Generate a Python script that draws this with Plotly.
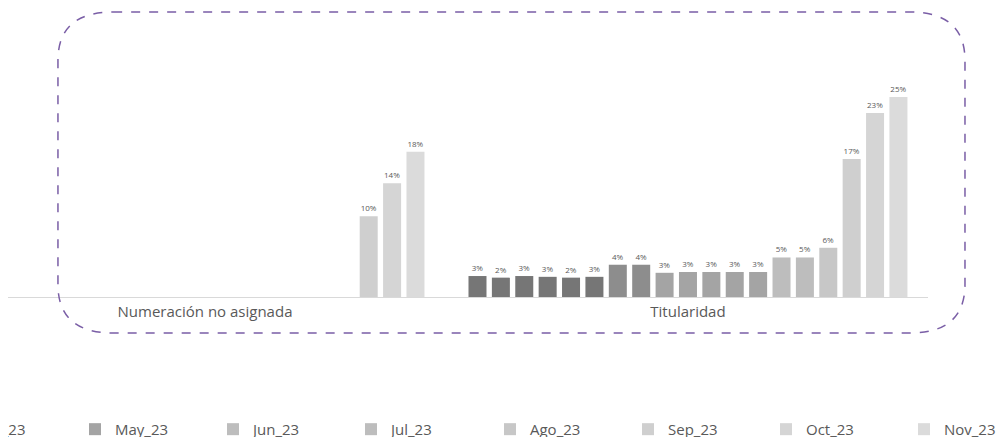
import plotly.graph_objects as go

categories = ["Numeración no asignada", "Titularidad"]

months = [
    "May_22", "Jun_22", "Jul_22", "Ago_22", "Sep_22", "Oct_22", "Nov_22",
    "Dic_22", "Ene_23", "Feb_23", "Mar_23", "Abr_23", "May_23", "Jun_23",
    "Jul_23", "Ago_23", "Sep_23", "Oct_23", "Nov_23",
]

# % per month (None = no bar)
numeracion = [None] * 16 + [10.0, 14.1, 18.0]
titularidad = [2.6, 2.4, 2.6, 2.5, 2.4, 2.5, 4.0, 4.0, 3.0, 3.1, 3.1, 3.1, 3.1,
               4.9, 4.9, 6.1, 17.1, 22.8, 24.8]

GRAYS = (["#767676"] * 6 + ["#8d8d8d"] * 2 + ["#a4a4a4"] * 5
         + ["#bdbdbd"] * 2 + ["#c7c7c7", "#cfcfcf", "#d5d5d5", "#dbdbdb"])

TEXT = "#595959"
FONT = "Open Sans"

# legend entries visible in the crop: first four in legend, last four in legend2
LEGEND_OF = {m: "legend" for m in months[11:15]}
LEGEND_OF.update({m: "legend2" for m in months[15:]})

fig = go.Figure()
for i, m in enumerate(months):
    fig.add_trace(
        go.Bar(
            name=m,
            x=categories,
            y=[numeracion[i], titularidad[i]],
            marker=dict(color=GRAYS[i], line=dict(width=0)),
            texttemplate="%{y:.0f}%",
            textposition="outside",
            textfont=dict(size=8, color=TEXT, family=FONT),
            constraintext="none",
            cliponaxis=False,
            showlegend=m in LEGEND_OF,
            legend=LEGEND_OF.get(m, "legend"),
        )
    )

# dashed rounded frame around the chart (paper coords)
x0, x1, y0, y1 = 0.0543, 1.0402, -0.1488, 1.1777
rx, ry = 0.06, 0.2
frame = (
    f"M {x0 + rx},{y1} L {x1 - rx},{y1} Q {x1},{y1} {x1},{y1 - ry} "
    f"L {x1},{y0 + ry} Q {x1},{y0} {x1 - rx},{y0} "
    f"L {x0 + rx},{y0} Q {x0},{y0} {x0},{y0 + ry} "
    f"L {x0},{y1 - ry} Q {x0},{y1} {x0 + rx},{y1} Z"
)

legend_style = dict(
    orientation="h", entrywidth=93, xanchor="left", yanchor="top",
    y=-0.479, font=dict(size=15, color=TEXT, family=FONT),
    bgcolor="rgba(0,0,0,0)", traceorder="normal",
)

fig.update_layout(
    width=1005,
    height=437,
    margin=dict(l=0, r=85, t=47, b=148, autoexpand=False),
    paper_bgcolor="white",
    plot_bgcolor="white",
    barmode="group",
    bargap=0.08,
    bargroupgap=0.23,
    font=dict(family=FONT, color=TEXT),
    xaxis=dict(
        range=[-0.4079, 1.497],
        showline=True,
        linecolor="#d9d9d9",
        linewidth=1,
        showgrid=False,
        ticks="",
        tickfont=dict(size=15, color=TEXT, family=FONT),
        ticklabelstandoff=1,
    ),
    yaxis=dict(range=[0, 30], visible=False, showgrid=False, zeroline=False),
    legend=dict(x=-0.0772, **legend_style),
    legend2=dict(x=0.5239, **legend_style),
    shapes=[
        dict(type="path", xref="paper", yref="paper", path=frame,
             line=dict(color="#7a5ea6", width=1.5, dash="dash"), layer="above")
    ],
)

fig.write_html("out.html")
